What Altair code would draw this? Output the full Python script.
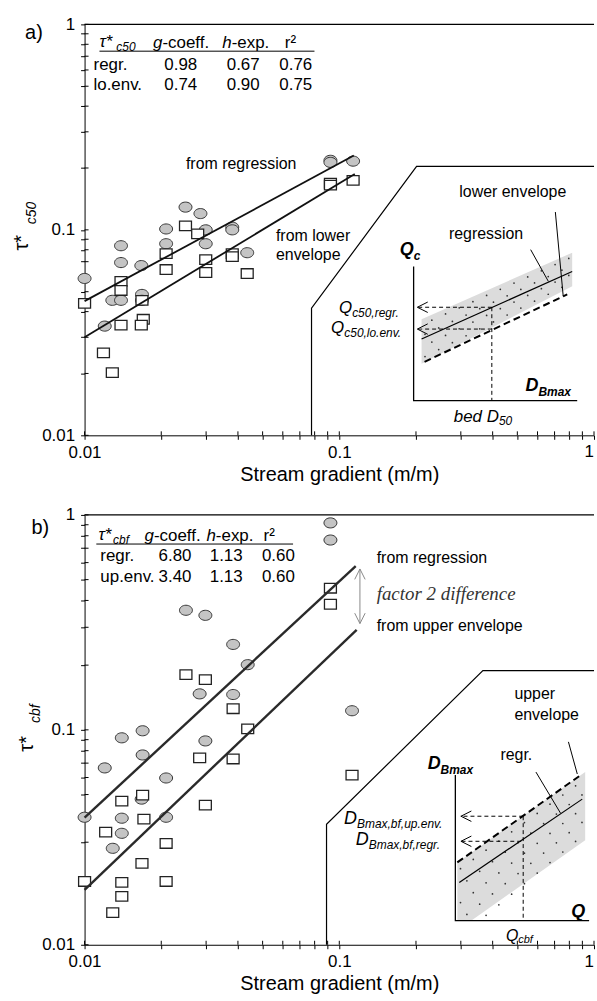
import math
import altair as alt
import pandas as pd

FONT = "Liberation Sans"
SERIF = "Liberation Serif"

TICKS = [0.01, 0.02, 0.03, 0.04, 0.05, 0.06, 0.07, 0.08, 0.09,
         0.1, 0.2, 0.3, 0.4, 0.5, 0.6, 0.7, 0.8, 0.9, 1.0]

# ---------------- panel a data ----------------
A_CIRC_X = [0.0923, 0.0923, 0.1133, 0.0249, 0.0285, 0.0209, 0.0299, 0.038, 0.038, 0.0139, 0.0209,
            0.0299, 0.0167, 0.0139, 0.0435, 0.0100, 0.01285, 0.0139, 0.0168, 0.0168, 0.0120]
A_CIRC_Y = [0.218, 0.213, 0.216, 0.129, 0.120, 0.101, 0.100, 0.103, 0.100, 0.0837, 0.0856,
            0.0856, 0.0670, 0.0693, 0.0774, 0.058, 0.0454, 0.0454, 0.0485, 0.0454, 0.034]
A_SQ_X = [0.0100, 0.0139, 0.0139, 0.0209, 0.0209, 0.0249, 0.0278, 0.0299, 0.0299, 0.038, 0.038,
          0.0435, 0.0168, 0.0170, 0.0139, 0.0167, 0.01186, 0.01285, 0.0923, 0.0923, 0.1133]
A_SQ_Y = [0.0439, 0.0561, 0.0507, 0.0766, 0.0641, 0.1045, 0.0956, 0.0716, 0.0620, 0.0766, 0.0741,
          0.0613, 0.0454, 0.0367, 0.0344, 0.0344, 0.0252, 0.0202, 0.1686, 0.165, 0.174]
A_REG_X, A_REG_Y = [0.01, 0.114], [0.045, 0.23]
A_LOW_X, A_LOW_Y = [0.01, 0.115], [0.030, 0.187]

# ---------------- panel b data ----------------
B_CIRC_X = [0.0923, 0.0923, 0.025, 0.0298, 0.0383, 0.0437, 0.0283, 0.0383, 0.1122, 0.014, 0.0169,
            0.0298, 0.0169, 0.012, 0.0209, 0.01675, 0.0100, 0.014, 0.0209, 0.014, 0.0129]
B_CIRC_Y = [0.918, 0.764, 0.360, 0.341, 0.2497, 0.201, 0.147, 0.146, 0.1227, 0.0918, 0.099,
            0.0888, 0.0764, 0.0665, 0.0597, 0.0476, 0.0392, 0.0388, 0.0392, 0.033, 0.0281]
B_SQ_X = [0.0923, 0.0923, 0.025, 0.0298, 0.0383, 0.0437, 0.0283, 0.0383, 0.1122, 0.0169, 0.014,
          0.0298, 0.0171, 0.0121, 0.0209, 0.0168, 0.0100, 0.014, 0.0209, 0.014, 0.0129]
B_SQ_Y = [0.456, 0.384, 0.1807, 0.1713, 0.1254, 0.101, 0.074, 0.0732, 0.0616, 0.0497, 0.0466,
          0.0446, 0.0384, 0.0334, 0.0296, 0.0239, 0.0197, 0.0195, 0.0197, 0.0168, 0.0141]
B_REG_X, B_REG_Y = [0.01, 0.116], [0.039, 0.578]
B_UP_X, B_UP_Y = [0.01, 0.117], [0.018, 0.292]

ELLIPSE = "M-1,0A1,0.78,0,1,1,1,0A1,0.78,0,1,1,-1,0Z"
RECT = "M-1,-0.8H1V0.8H-1Z"
CHEV_L = "M1,-1L-1,0L1,1"
CHEV_U = "M-1,1L0,-1L1,1"
CHEV_D = "M-1,-1L0,1L1,-1"


def stipple(x0, x1, lo0, lo1, hi0, hi1, nu, nv, ymin=None):
    """Decorative dot texture inside a schematic band (log-space parallelogram)."""
    xs, ys = [], []
    for j in range(nv):
        v = (j + 0.5) / nv
        for i in range(nu):
            u = (i + 0.25 + 0.5 * (j % 2)) / nu
            lx = math.log10(x0) + u * (math.log10(x1) - math.log10(x0))
            llo = math.log10(lo0) + u * (math.log10(lo1) - math.log10(lo0))
            lhi = math.log10(hi0) + u * (math.log10(hi1) - math.log10(hi0))
            ly = llo + v * (lhi - llo)
            if ymin is not None and ly < math.log10(ymin) + 0.02:
                continue
            xs.append(10 ** lx)
            ys.append(10 ** ly)
    return xs, ys


class Panel:
    def __init__(self, W, H):
        self.W, self.H = W, H
        common = dict(values=TICKS, tickSize=4, tickColor="black", tickWidth=1,
                      domainColor="black", domainWidth=1, grid=False, labelFont=FONT,
                      labelFontSize=17, labelColor="black", labelOverlap=False, labelFlush=False)
        self.X = alt.X("x:Q", scale=alt.Scale(type="log", domain=[0.01, 1], nice=False),
                       axis=alt.Axis(labelExpr="datum.value == 0.01 ? '0.01' : (datum.value == 0.1 ? '0.1' : '')",
                                     title="Stream gradient (m/m)", titleFont=FONT, titleFontSize=20,
                                     titleFontWeight="normal", titleColor="black", titlePadding=4,
                                     labelPadding=5, **common))
        self.Y = alt.Y("y:Q", scale=alt.Scale(type="log", domain=[0.01, 1], nice=False),
                       axis=alt.Axis(labelExpr="datum.value == 0.01 ? '0.01' : (datum.value == 0.1 ? '0.1' : (datum.value == 1 ? '1' : ''))",
                                     title=None, labelPadding=6, **common))
        self.layers = []

    def text(self, xs, ys, ts, size=16, align="left", baseline="middle", font=FONT,
             style="normal", weight="normal", angle=0, color="black"):
        d = pd.DataFrame({"x": xs, "y": ys, "t": ts})
        self.layers.append(alt.Chart(d).mark_text(
            align=align, baseline=baseline, font=font, fontSize=size, fontStyle=style,
            fontWeight=weight, angle=angle, color=color).encode(x=self.X, y=self.Y, text="t:N"))

    def lines(self, groups, width=1.2, dash=None, color="black"):
        rows = []
        for g, (xs, ys) in enumerate(groups):
            for i, (a, b) in enumerate(zip(xs, ys)):
                rows.append({"x": a, "y": b, "g": g, "i": i})
        kw = dict(strokeWidth=width, color=color)
        if dash:
            kw["strokeDash"] = dash
        self.layers.append(alt.Chart(pd.DataFrame(rows)).mark_line(**kw).encode(
            x=self.X, y=self.Y, detail="g:N", order="i:Q"))

    def points(self, xs, ys, shape, size, fill, stroke, sw, filled=True):
        d = pd.DataFrame({"x": xs, "y": ys})
        kw = dict(shape=shape, size=size, stroke=stroke, strokeWidth=sw, opacity=1, filled=filled)
        if filled:
            kw["fill"] = fill
        self.layers.append(alt.Chart(d).mark_point(**kw).encode(x=self.X, y=self.Y))

    def dots(self, xs, ys):
        d = pd.DataFrame({"x": xs, "y": ys})
        self.layers.append(alt.Chart(d).mark_circle(size=3, color="#333333", opacity=1).encode(
            x=self.X, y=self.Y))

    def area(self, xs, ylo, yhi, fill):
        d = pd.DataFrame({"x": xs, "y": ylo, "y2": yhi})
        self.layers.append(alt.Chart(d).mark_area(color=fill, opacity=1).encode(
            x=self.X, y=self.Y, y2="y2:Q"))

    def frame(self):
        d = pd.DataFrame({"x": TICKS, "y": TICKS})
        self.layers.append(alt.Chart(d).mark_rule(color="black", strokeWidth=1).encode(
            x=self.X, y=alt.value(self.H), y2=alt.value(self.H - 4)))
        self.layers.append(alt.Chart(d).mark_rule(color="black", strokeWidth=1).encode(
            y=self.Y, x=alt.value(0), x2=alt.value(4)))
        self.lines([([0.01, 1.0], [1.0, 1.0])], width=1.3)
        one = pd.DataFrame({"x": [1.0], "t": ["1"]})
        self.layers.append(alt.Chart(one).mark_text(
            align="right", baseline="top", font=FONT, fontSize=17, color="black").encode(
            x=self.X, y=alt.value(self.H + 9), text="t:N"))

    def chart(self):
        return alt.layer(*self.layers).properties(width=self.W, height=self.H)


# ======================= panel a =======================
pa = Panel(512, 413)
pa.area([0.2104, 0.821], [0.02228, 0.0531], [0.03675, 0.0774], "#dcdcdc")
dx, dy = stipple(0.2104, 0.821, 0.02228, 0.0531, 0.03675, 0.0774, 11, 4)
pa.dots(dx, dy)
pa.frame()
pa.lines([([0.0778, 0.0778, 0.2011, 1.0], [0.01, 0.04153, 0.2037, 0.2037])], width=1.2)
pa.lines([([0.1958, 0.1958, 0.859], [0.0663, 0.01476, 0.01476])], width=1.3)
pa.lines([([0.2104, 0.821], [0.02943, 0.0627])], width=1.2)
pa.lines([([0.2161, 0.785], [0.02278, 0.0485])], width=2, dash=[7, 4])
pa.lines([([0.397, 0.2011], [0.042, 0.042]), ([0.397, 0.2011], [0.03289, 0.03289]),
          ([0.397, 0.397], [0.042, 0.01476])], width=1, dash=[4, 3])
pa.points([0.2122, 0.2122], [0.042, 0.03289], CHEV_L, 110, "none", "black", 1, filled=False)
pa.lines([([0.705, 0.757], [0.1221, 0.0475]), ([0.564, 0.662], [0.0801, 0.0561])], width=1)
pa.points(A_CIRC_X, A_CIRC_Y, ELLIPSE, 169, "#c4c4c4", "#333333", 1)
pa.points(A_SQ_X, A_SQ_Y, RECT, 144, "white", "#222222", 1.3)
pa.lines([(A_REG_X, A_REG_Y), (A_LOW_X, A_LOW_Y)], width=1.8, color="#111111")
# table
pa.text([0.01144], [0.8186], ["τ*"], size=17, style="italic")
pa.text([0.01332], [0.7745], ["c50"], size=12, style="italic")
pa.text([0.01856, 0.03475], [0.8095, 0.8095], ["g", "h"], size=17, style="italic")
pa.text([0.02021, 0.0378, 0.0611], [0.8095] * 3, ["-coeff.", "-exp.", "r²"], size=17)
pa.lines([([0.01144, 0.0799], [0.7406, 0.7406])], width=1)
pa.text([0.01084, 0.01084], [0.634, 0.5074], ["regr.", "lo.env."], size=17)
pa.text([0.02385, 0.04195, 0.06745, 0.02385, 0.04195, 0.06745],
        [0.634, 0.634, 0.634, 0.5074, 0.5074, 0.5074],
        ["0.98", "0.67", "0.76", "0.74", "0.90", "0.75"], size=17, align="center")
# annotations
pa.text([0.0412], [0.2085], ["from regression"], size=16, align="center")
pa.text([0.0564, 0.0564], [0.0935, 0.0757], ["from lower", "envelope"], size=16)
pa.text([0.480], [0.1527], ["lower envelope"], size=16, align="center")
pa.text([0.3767], [0.0956], ["regression"], size=16, align="center")
pa.text([0.1958], [0.0801], ["Q"], size=18, align="right", style="italic", weight="bold")
pa.text([0.1958], [0.0749], ["c"], size=12, style="italic", weight="bold")
pa.text([0.1123, 0.1046], [0.04153, 0.03326], ["Q", "Q"], size=17, align="right", style="italic")
pa.text([0.1123, 0.1046], [0.03928, 0.03145], ["c50,regr.", "c50,lo.env."], size=12, style="italic")
pa.text([0.6053], [0.01744], ["D"], size=18, align="right", style="italic", weight="bold")
pa.text([0.6053], [0.01633], ["Bmax"], size=12, style="italic", weight="bold")
pa.text([0.4232], [0.01222], ["bed D"], size=17, align="right", style="italic")
pa.text([0.4232], [0.01169], ["50"], size=12, style="italic")
pa.text([0.00584], [0.9048], ["a)"], size=20)
pa.text([0.00569], [0.0865], ["τ*"], size=20, align="center", angle=270)
pa.text([0.00622], [0.1208], ["c50"], size=14, align="center", angle=270, style="italic")

# ======================= panel b =======================
pb = Panel(512, 432)
pb.area([0.2906, 0.3293, 0.9232], [0.01294, 0.01294, 0.0306], [0.02416, 0.02683, 0.0636], "#dcdcdc")
dx, dy = stipple(0.2906, 0.9232, 0.0097, 0.0306, 0.02416, 0.0636, 10, 5, ymin=0.01294)
pb.dots(dx, dy)
pb.frame()
pb.lines([([0.0891, 0.0891, 0.3662, 1.0], [0.01, 0.03636, 0.1887, 0.1887])], width=1.2)
pb.lines([([0.2855, 0.2855, 0.9566], [0.0616, 0.01294, 0.01294])], width=1.3)
pb.lines([([0.2958, 0.899], [0.01949, 0.0476])], width=1.2)
pb.lines([([0.2906, 0.899], [0.02416, 0.0623])], width=2, dash=[7, 4])
pb.lines([([0.5272, 0.2985], [0.03963, 0.03963]), ([0.5179, 0.2985], [0.0303, 0.0303]),
          ([0.5272, 0.5272], [0.03963, 0.01294])], width=1, dash=[4, 3])
pb.points([0.3148, 0.3148], [0.03963, 0.0303], CHEV_L, 110, "none", "black", 1, filled=False)
pb.lines([([0.5916, 0.739], [0.0636, 0.04093]), ([0.7935, 0.8597], [0.0879, 0.0623])], width=1)
pb.lines([([0.1205, 0.1205], [0.5595, 0.3129])], width=1, color="#888888")
pb.points([0.1205], [0.530], CHEV_U, 110, "none", "#888888", 1, filled=False)
pb.points([0.1205], [0.330], CHEV_D, 110, "none", "#888888", 1, filled=False)
pb.points(B_CIRC_X, B_CIRC_Y, ELLIPSE, 169, "#c4c4c4", "#333333", 1)
pb.points(B_SQ_X, B_SQ_Y, RECT, 144, "white", "#222222", 1.3)
pb.lines([(B_REG_X, B_REG_Y), (B_UP_X, B_UP_Y)], width=2.4, color="#2a2a2a")
# table
pb.text([0.01133], [0.806], ["τ*"], size=17, style="italic")
pb.text([0.01294], [0.764], ["cbf"], size=12, style="italic")
pb.text([0.01719, 0.03012], [0.798, 0.798], ["g", "h"], size=17, style="italic")
pb.text([0.01872, 0.03276, 0.05044], [0.798] * 3, ["-coeff.", "-exp.", "r²"], size=17)
pb.lines([([0.01112, 0.06585], [0.732, 0.732])], width=1)
pb.text([0.01153, 0.01153], [0.643, 0.5133], ["regr.", "up.env."], size=17)
pb.text([0.02266, 0.03597, 0.05764, 0.02266, 0.03597, 0.05764],
        [0.643, 0.643, 0.643, 0.5133, 0.5133, 0.5133],
        ["6.80", "1.13", "0.60", "3.40", "1.13", "0.60"], size=17, align="center")
# annotations
pb.text([0.1402, 0.1402], [0.6297, 0.3029], ["from regression", "from upper envelope"], size=16)
pb.text([0.1402], [0.4274], ["factor 2 difference"], size=19, font=SERIF, style="italic", color="#333333")
pb.text([0.4868, 0.4868], [0.1473, 0.1175], ["upper", "envelope"], size=16)
pb.text([0.4955], [0.0764], ["regr."], size=16, align="center")
pb.text([0.2498], [0.0694], ["D"], size=18, align="right", style="italic", weight="bold")
pb.text([0.2498], [0.0650], ["Bmax"], size=12, style="italic", weight="bold")
pb.text([0.1174, 0.1305], [0.03837, 0.0306], ["D", "D"], size=18, align="right", style="italic")
pb.text([0.1174, 0.1305], [0.03636, 0.02902], ["Bmax,bf,up.env.", "Bmax,bf,regr."], size=12, style="italic")
pb.text([0.9232], [0.01426], ["Q"], size=18, align="right", style="italic", weight="bold")
pb.text([0.5043], [0.01101], ["Q"], size=16, align="right", style="italic")
pb.text([0.5043], [0.01055], ["cbf"], size=11, style="italic")
pb.text([0.00619], [0.8694], ["b)"], size=20)
pb.text([0.00592], [0.0860], ["τ*"], size=20, align="center", angle=270)
pb.text([0.00647], [0.1188], ["cbf"], size=14, align="center", angle=270, style="italic")

chart = alt.vconcat(pa.chart(), pb.chart(), spacing=80, bounds="flush").resolve_scale(
    x="independent", y="independent"
).properties(
    padding={"left": 12, "top": 13, "right": 0, "bottom": 0}
).configure_view(strokeWidth=0)

chart.save("out.html", embed_options={"renderer": "svg", "actions": False})
